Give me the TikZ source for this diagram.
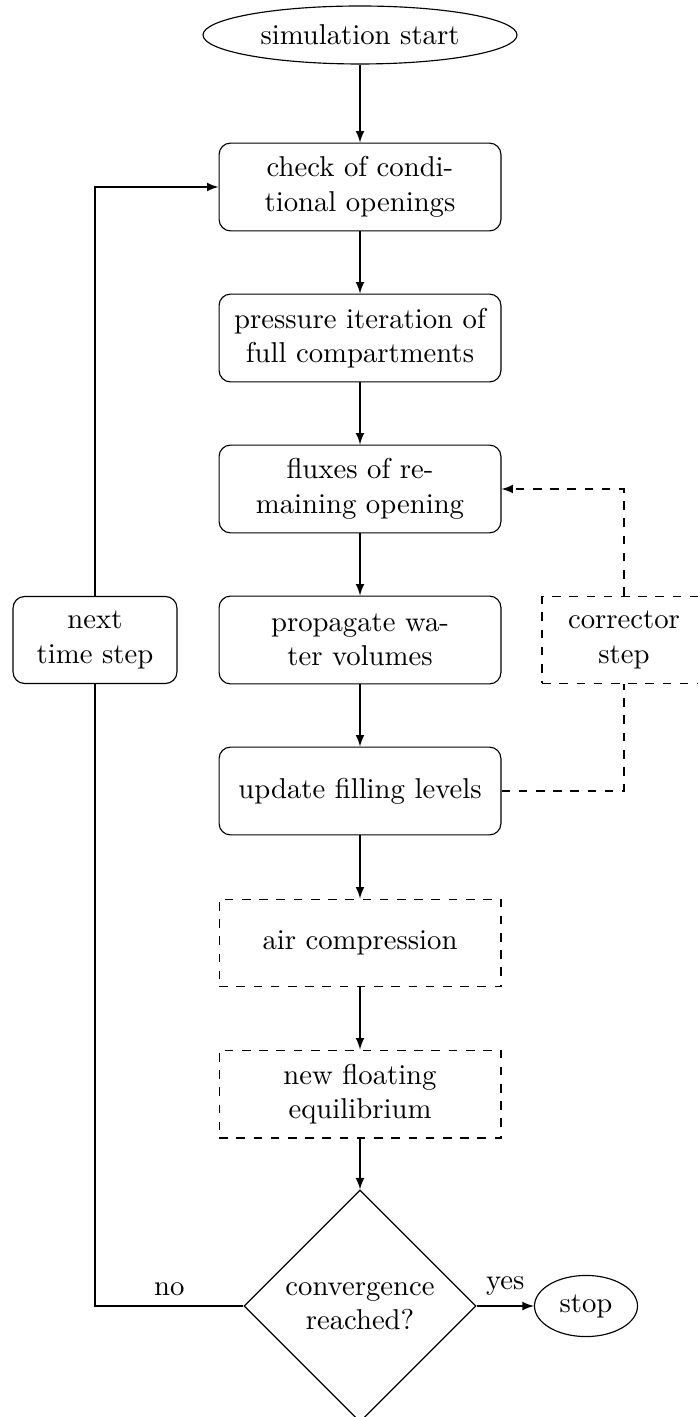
\documentclass[tikz,border=0pt]{standalone}
\usetikzlibrary{shapes.geometric,arrows}
\begin{document}
\begin{tikzpicture}[x=0.3484pt,y=-0.3484pt,
  blockbox/.style={draw,rectangle,rounded corners,align=center,minimum width=98.2pt,minimum height=30.6pt,inner sep=2pt},
  dashbox/.style={draw,dashed,rectangle,align=center,minimum width=98.2pt,minimum height=30.6pt,inner sep=2pt},
  sidebox/.style={draw,rectangle,rounded corners,align=center,minimum width=57.1pt,minimum height=30.3pt,inner sep=2pt},
  sidedash/.style={draw,dashed,rectangle,align=center,minimum width=57.1pt,minimum height=30.3pt,inner sep=2pt},
  term/.style={draw,ellipse,align=center,inner sep=0pt},
  decision/.style={draw,diamond,aspect=1,align=center,inner sep=0pt,minimum width=80.8pt,minimum height=80.8pt},
  conn/.style={-latex}]
\useasboundingbox (0,0) rectangle (697,1417);
\node[term,minimum width=109.4pt,minimum height=20.2pt] (start) at (360,35) {simulation start};
\node[blockbox] (b1) at (360,187) {check of condi-\\tional openings};
\node[blockbox] (b2) at (360,338) {pressure iteration of\\full compartments};
\node[blockbox] (b3) at (360,489) {fluxes of re-\\maining opening};
\node[blockbox] (b4) at (360,640) {propagate wa-\\ter volumes};
\node[blockbox] (b5) at (360,791) {update filling levels};
\node[dashbox] (b6) at (360,943) {air compression};
\node[dashbox] (b7) at (360,1094) {new floating\\equilibrium};
\node[decision] (dia) at (360,1306) {convergence\\reached?};
\node[term,minimum width=35.9pt,minimum height=21.3pt] (stop) at (586,1306) {stop};
\node[sidebox] (next) at (95,640) {next\\time step};
\node[sidedash] (corr) at (624,640) {corrector\\step};
\draw[conn] (start) -- (b1);
\draw[conn] (b1) -- (b2);
\draw[conn] (b2) -- (b3);
\draw[conn] (b3) -- (b4);
\draw[conn] (b4) -- (b5);
\draw[conn] (b5) -- (b6);
\draw[conn] (b6) -- (b7);
\draw[conn] (b7) -- (dia);
\draw[conn] (dia.east) -- node[above] {yes} (stop.west);
\draw (dia.west) -- node[above] {no} (next.south |- dia.west) -- (next.south);
\draw[conn] (next.north) |- (b1.west);
\draw[dashed] (b5.east) -| (corr.south);
\draw[dashed,conn] (corr.north) |- (b3.east);
\end{tikzpicture}
\end{document}
